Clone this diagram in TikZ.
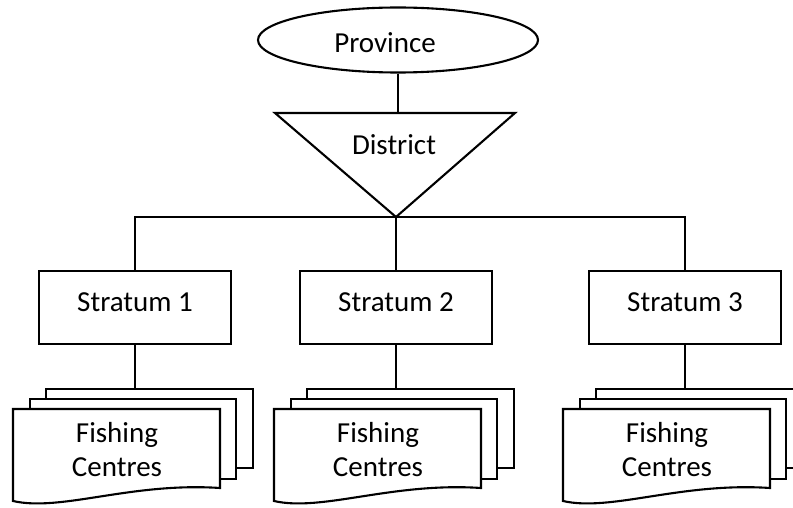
\documentclass[tikz,border=0pt]{standalone}
\usepackage{fontspec}
\setmainfont{Carlito}
\usetikzlibrary{shapes.geometric}
\newcommand{\fishstack}[2]{%
  \begin{scope}[shift={(#1,0)}]
    \draw[sheet] (-89,389) rectangle (118,468);
    \draw[sheet] (-105,399) rectangle (101,479);
    \draw[sheet] (-122,409) -- (85,409) -- (85,488)
      .. controls (-4,482) and (-74,512) .. (-122,501) -- cycle;
    \node[align=center] (#2) at (-18,450) {Fishing\\Centres};
    \coordinate (#2top) at (0,389);
  \end{scope}}
\begin{document}
\begin{tikzpicture}[x=0.5pt,y=-0.5pt,line width=1.05pt,
  every node/.style={font=\fontsize{14.5}{17}\selectfont},
  stratum/.style={draw,rectangle,minimum width=96pt,minimum height=36.5pt,inner sep=0pt,text depth=5.5pt},
  sheet/.style={draw,fill=white,line join=miter}]
\useasboundingbox (0,0) rectangle (793,508);
\clip (0,0) rectangle (793,508);
% Province
\node[draw,ellipse,minimum width=140pt,minimum height=32.5pt,inner sep=0pt] (prov) at (398,40) {};
\node (provtxt) at (385,43) {Province};
% District triangle
\coordinate (tl) at (275,113);
\coordinate (tr) at (515,113);
\coordinate (apex) at (396,217);
\draw[line join=miter] (tl) -- (tr) -- (apex) -- cycle;
\node (dist) at (394,145) {District};
\draw (prov.south) -- (prov.south |- tl);
% Strata
\node[stratum] (s1) at (135,307.5) {Stratum 1};
\node[stratum] (s2) at (396,307.5) {Stratum 2};
\node[stratum] (s3) at (685,307.5) {Stratum 3};
\draw (s1.north) |- (apex) -| (s3.north);
\draw (apex) -- (s2.north);
% Fishing centres
\fishstack{135}{fc1}
\fishstack{396}{fc2}
\fishstack{685}{fc3}
\draw (s1.south) -- (fc1top);
\draw (s2.south) -- (fc2top);
\draw (s3.south) -- (fc3top);
\end{tikzpicture}
\end{document}
